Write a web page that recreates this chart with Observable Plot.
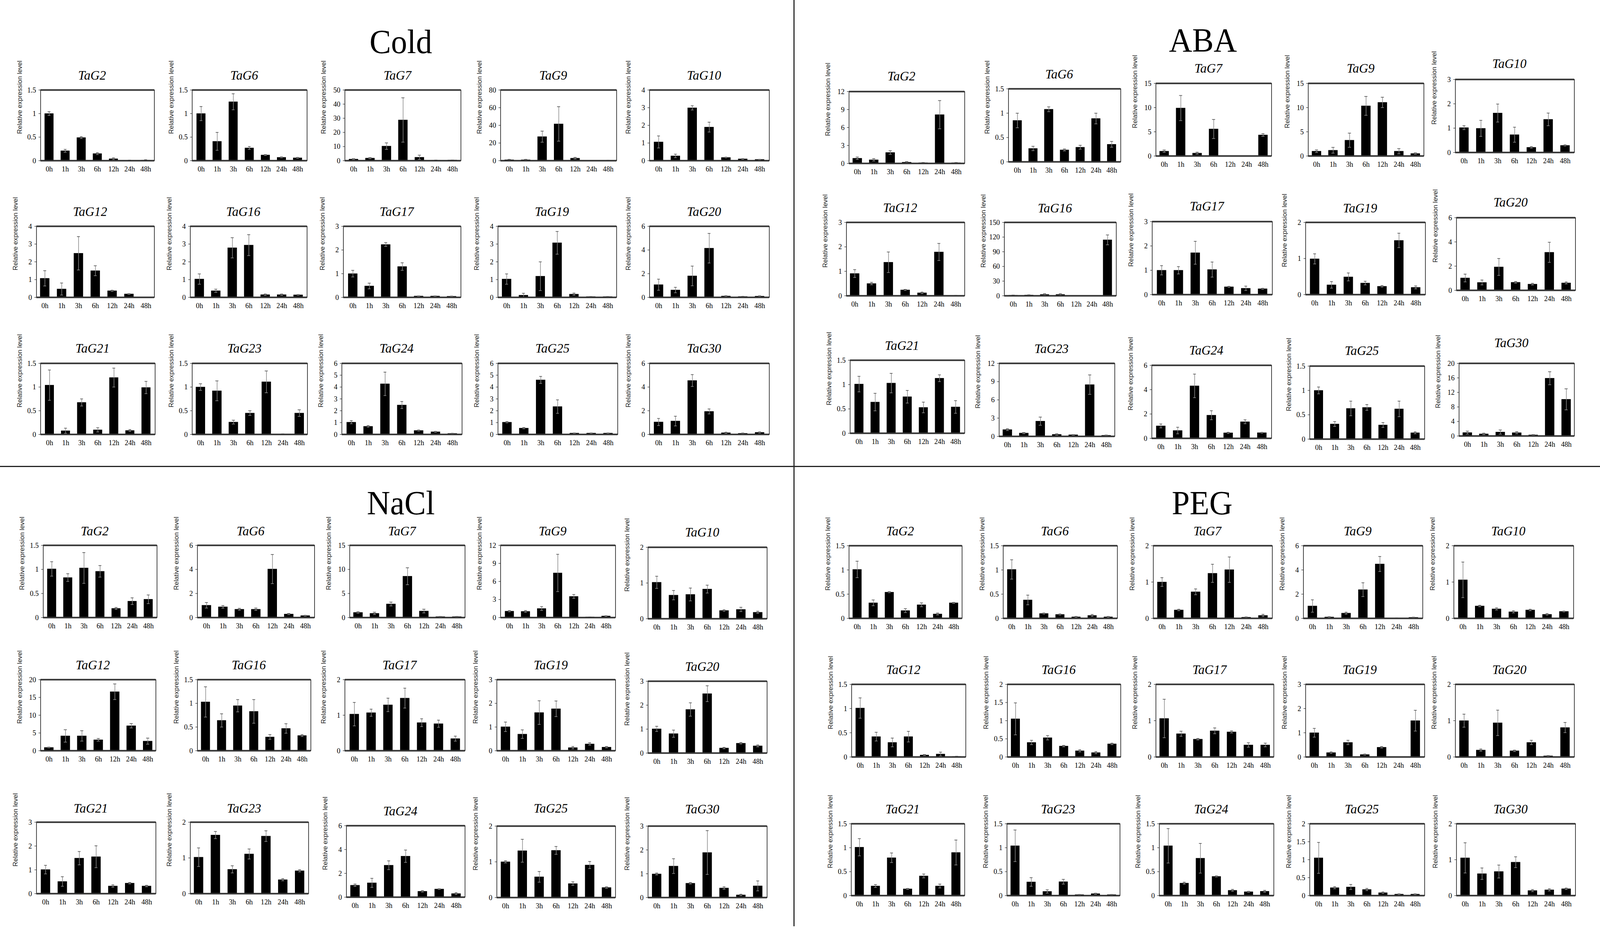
<!DOCTYPE html>
<html><head><meta charset="utf-8">
<script src="https://cdn.jsdelivr.net/npm/d3@7"></script>
<script src="https://cdn.jsdelivr.net/npm/@observablehq/plot@0.6"></script>
<style>
html,body{margin:0;padding:0;background:#fff;overflow:hidden;}
#root{position:absolute;left:0;top:0;width:4275px;height:2379px;overflow:hidden;background:#fff;transform-origin:0 0;}
.panel-title{position:absolute;font-family:"Liberation Serif",serif;font-size:86px;line-height:1;transform:translateX(-50%);white-space:nowrap;color:#000;}
.gene{position:absolute;font-family:"Liberation Serif",serif;font-style:italic;font-size:34px;line-height:1;transform:translate(-50%,-50%);white-space:nowrap;color:#000;}
.chart{position:absolute;}
.divider{position:absolute;background:#222;}
</style></head><body><div id="root"></div>
<script>
// ---------- DATA ----------
const times = ["0h","1h","3h","6h","12h","24h","48h"];
const genes = ["TaG2","TaG6","TaG7","TaG9","TaG10","TaG12","TaG16","TaG17","TaG19","TaG20","TaG21","TaG23","TaG24","TaG25","TaG30"];
const treatments = ["Cold","ABA","NaCl","PEG"];

const coldMean = [
 [1.0,0.21,0.49,0.15,0.04,0.005,0.01],
 [1.0,0.41,1.25,0.27,0.12,0.07,0.06],
 [1.1,1.8,10.3,28.8,2.4,0.3,0.4],
 [1.0,1.0,27.2,41.6,2.8,0.2,0.3],
 [1.06,0.27,2.99,1.9,0.18,0.1,0.07],
 [1.07,0.47,2.48,1.5,0.37,0.19,0.01],
 [1.03,0.37,2.79,2.94,0.15,0.15,0.14],
 [1.0,0.48,2.23,1.3,0.055,0.055,0.045],
 [1.03,0.12,1.19,3.07,0.18,0.04,0.04],
 [1.07,0.62,1.81,4.15,0.11,0.07,0.1],
 [1.04,0.077,0.675,0.096,1.2,0.083,0.99],
 [1.0,0.92,0.26,0.45,1.11,0.005,0.45],
 [1.03,0.68,4.27,2.48,0.33,0.22,0.08],
 [1.03,0.53,4.6,2.35,0.11,0.11,0.11],
 [1.05,1.13,4.55,1.94,0.14,0.09,0.17]
];
const coldErr = [
 [0.04,0.03,0.02,0.02,0.02,0.005,0.01],
 [0.15,0.19,0.17,0.03,0.01,0.01,0.01],
 [0.3,0.4,2.3,15.7,1.5,0.1,0.1],
 [0.5,0.5,6.3,19.5,0.9,0.1,0.1],
 [0.34,0.1,0.12,0.28,0.02,0.02,0.01],
 [0.43,0.34,0.94,0.28,0.03,0.02,0.005],
 [0.29,0.09,0.57,0.59,0.04,0.04,0.02],
 [0.14,0.12,0.08,0.16,0.01,0.01,0.01],
 [0.29,0.11,0.81,0.64,0.06,0.01,0.01],
 [0.47,0.23,0.83,1.25,0.03,0.02,0.03],
 [0.32,0.055,0.075,0.045,0.2,0.02,0.13],
 [0.07,0.21,0.04,0.05,0.23,0.005,0.07],
 [0.13,0.06,0.99,0.3,0.04,0.04,0.02],
 [0.05,0.05,0.3,0.57,0.02,0.02,0.02],
 [0.3,0.41,0.5,0.21,0.05,0.03,0.04]
];
const coldYMax  = [1.5,1.5,50,80,4, 4,4,3,4,6, 1.5,1.5,6,6,6];
const coldYStep = [0.5,0.5,10,20,1, 1,1,1,1,2, 0.5,0.5,1,1,2];

const abaMean = [
 [0.86,0.6,1.82,0.2,0.1,8.14,0.1],
 [0.85,0.275,1.08,0.245,0.3,0.89,0.36],
 [0.99,9.9,0.59,5.58,0.02,0.02,4.34],
 [0.99,1.18,3.26,10.35,11.07,0.99,0.51],
 [1.02,0.99,1.62,0.73,0.21,1.36,0.29],
 [0.91,0.5,1.37,0.24,0.12,1.79,0.01],
 [1.0,1.5,2.7,2.7,0.3,0.3,114.3],
 [1.0,1.0,1.72,1.03,0.32,0.26,0.24],
 [0.99,0.27,0.49,0.32,0.23,1.5,0.2],
 [1.02,0.65,1.93,0.66,0.51,3.14,0.61],
 [1.01,0.64,1.03,0.75,0.53,1.13,0.54],
 [1.11,0.54,2.5,0.32,0.26,8.5,0.17],
 [1.02,0.64,4.31,1.9,0.45,1.36,0.46],
 [1.0,0.31,0.63,0.65,0.29,0.62,0.13],
 [0.93,0.57,1.08,0.9,0.29,15.9,10.1]
];
const abaErr = [
 [0.2,0.2,0.3,0.1,0.05,2.36,0.05],
 [0.15,0.045,0.05,0.02,0.04,0.11,0.06],
 [0.24,2.6,0.2,1.97,0.01,0.01,0.27],
 [0.27,0.6,1.47,1.95,1.07,0.54,0.14],
 [0.08,0.33,0.37,0.31,0.03,0.26,0.02],
 [0.16,0.05,0.42,0.02,0.03,0.35,0.005],
 [0.5,0.5,1.5,1.5,0.1,0.1,10.1],
 [0.19,0.15,0.47,0.31,0.02,0.09,0.02],
 [0.14,0.09,0.11,0.05,0.02,0.2,0.04],
 [0.32,0.2,0.7,0.07,0.07,0.83,0.08],
 [0.16,0.18,0.2,0.13,0.11,0.07,0.13],
 [0.15,0.1,0.67,0.1,0.05,1.6,0.05],
 [0.16,0.27,0.97,0.37,0.05,0.16,0.03],
 [0.07,0.05,0.15,0.06,0.05,0.16,0.02],
 [0.4,0.2,0.57,0.3,0.1,1.8,2.9]
];
const abaYMax  = [12,1.5,15,15,3, 3,150,3,2,6, 1.5,12,6,1.5,20];
const abaYStep = [3,0.5,5,5,1, 1,30,1,1,2, 0.5,3,2,0.5,4];

const naclMean = [
 [1.01,0.83,1.03,0.96,0.19,0.34,0.38],
 [1.02,0.89,0.69,0.69,4.03,0.29,0.16],
 [1.06,0.87,2.82,8.58,1.35,0.19,0.19],
 [1.06,1.02,1.5,7.41,3.51,0.09,0.26],
 [1.02,0.66,0.68,0.83,0.23,0.26,0.18],
 [0.91,4.17,4.17,3.07,16.6,7.02,2.7],
 [1.03,0.64,0.95,0.83,0.29,0.47,0.32],
 [1.03,1.07,1.29,1.48,0.79,0.76,0.34],
 [1.01,0.7,1.61,1.77,0.13,0.285,0.15],
 [1.01,0.81,1.82,2.48,0.21,0.41,0.3],
 [1.01,0.51,1.49,1.55,0.32,0.44,0.32],
 [1.02,1.64,0.68,1.11,1.61,0.39,0.64],
 [1.0,1.2,2.68,3.44,0.49,0.68,0.3],
 [1.0,1.31,0.58,1.32,0.39,0.91,0.28],
 [0.99,1.32,0.6,1.89,0.4,0.11,0.49]
];
const naclErr = [
 [0.15,0.08,0.32,0.12,0.02,0.07,0.09],
 [0.23,0.11,0.08,0.1,1.21,0.05,0.03],
 [0.15,0.25,0.4,1.76,0.38,0.05,0.05],
 [0.1,0.15,0.32,3.1,0.32,0.02,0.05],
 [0.17,0.13,0.18,0.11,0.02,0.06,0.03],
 [0.1,1.75,1.46,0.37,2.2,0.62,0.85],
 [0.32,0.14,0.13,0.25,0.05,0.1,0.02],
 [0.33,0.1,0.19,0.28,0.11,0.1,0.07],
 [0.2,0.18,0.5,0.33,0.05,0.05,0.03],
 [0.11,0.15,0.28,0.33,0.03,0.03,0.04],
 [0.18,0.2,0.28,0.46,0.05,0.03,0.03],
 [0.26,0.1,0.1,0.14,0.15,0.03,0.03],
 [0.1,0.38,0.37,0.52,0.06,0.03,0.08],
 [0.03,0.32,0.15,0.11,0.05,0.1,0.02],
 [0.04,0.31,0.03,0.92,0.05,0.03,0.21]
];
const naclYMax  = [1.5,6,15,12,2, 20,1.5,2,3,3, 3,2,6,2,3];
const naclYStep = [0.5,2,5,3,1, 5,0.5,1,1,1, 1,1,2,1,1];

const pegMean = [
 [1.01,0.32,0.54,0.16,0.28,0.09,0.32],
 [1.01,0.38,0.1,0.08,0.03,0.06,0.03],
 [1.0,0.23,0.73,1.24,1.34,0.03,0.08],
 [1.02,0.11,0.43,2.37,4.49,0.02,0.08],
 [1.06,0.34,0.26,0.18,0.23,0.11,0.19],
 [1.01,0.42,0.3,0.42,0.04,0.06,0.01],
 [1.05,0.4,0.53,0.3,0.17,0.12,0.36],
 [1.06,0.64,0.49,0.72,0.69,0.33,0.33],
 [1.0,0.18,0.6,0.1,0.4,0.005,1.5],
 [1.0,0.19,0.94,0.17,0.4,0.03,0.81],
 [1.01,0.2,0.79,0.14,0.41,0.2,0.9],
 [1.04,0.285,0.087,0.29,0.02,0.04,0.02],
 [1.04,0.26,0.78,0.4,0.11,0.08,0.09],
 [1.05,0.22,0.24,0.17,0.08,0.04,0.04],
 [1.05,0.61,0.67,0.93,0.14,0.16,0.19]
];
const pegErr = [
 [0.17,0.06,0.01,0.04,0.04,0.02,0.01],
 [0.2,0.1,0.01,0.01,0.01,0.02,0.01],
 [0.12,0.02,0.08,0.25,0.35,0.01,0.03],
 [0.51,0.03,0.08,0.57,0.62,0.01,0.02],
 [0.49,0.02,0.03,0.03,0.02,0.02,0.01],
 [0.21,0.09,0.09,0.11,0.01,0.04,0.005],
 [0.44,0.06,0.06,0.02,0.03,0.03,0.02],
 [0.53,0.07,0.02,0.08,0.03,0.06,0.05],
 [0.18,0.03,0.09,0.02,0.03,0.005,0.43],
 [0.18,0.03,0.35,0.02,0.06,0.01,0.14],
 [0.18,0.03,0.1,0.01,0.04,0.04,0.26],
 [0.33,0.09,0.035,0.05,0.005,0.01,0.005],
 [0.36,0.02,0.31,0.01,0.02,0.01,0.02],
 [0.43,0.03,0.07,0.03,0.02,0.01,0.01],
 [0.42,0.16,0.18,0.15,0.03,0.03,0.02]
];
const pegYMax  = [1.5,1.5,2,6,2, 1.5,2,2,3,2, 1.5,1.5,1.5,2,2];
const pegYStep = [0.5,0.5,1,2,1, 0.5,0.5,1,1,1, 0.5,0.5,0.5,0.5,1];

const yLabel = "Relative expression level";

// ---------- LAYOUT (pixel boxes: left, top, right, bottom, titleY) ----------
const coldBoxes = [
 [108,230,412,411,193],[513,230,820,411,193],[921,230,1231,411,193],[1337,230,1647,411,193],[1735,230,2055,411,193],
 [97,579,412,761,542],[508,579,820,761,542],[917,579,1231,761,542],[1330,579,1647,761,542],[1735,579,2055,761,542],
 [108,930,414,1112,892],[513,930,821,1112,892],[913,930,1234,1112,892],[1330,930,1650,1112,892],[1735,930,2055,1112,892]
];
const abaBoxes = [
 [2268,234,2577,418,195],[2694,227,2994,414,190],[3088,213,3397,399,175],[3495,213,3804,399,175],[3888,203,4206,390,163],
 [2261,569,2577,757,532],[2683,569,2982,757,533],[3078,567,3399,754,528],[3488,569,3808,754,533],[3891,557,4209,743,518],
 [2271,922,2577,1109,885],[2669,930,2978,1117,893],[3077,935,3397,1122,897],[3499,937,3806,1124,898],[3898,930,4206,1116,878]
];
const naclBoxes = [
 [115,1396,419,1581,1360],[527,1396,840,1581,1360],[934,1396,1242,1581,1360],[1337,1396,1644,1581,1360],[1731,1401,2049,1584,1363],
 [108,1740,416,1922,1703],[527,1740,830,1922,1703],[921,1740,1242,1922,1703],[1327,1740,1644,1922,1703],[1731,1744,2049,1928,1707],
 [97,2105,416,2288,2070],[508,2105,824,2288,2070],[925,2114,1242,2297,2077],[1327,2115,1644,2298,2070],[1731,2115,2049,2298,2072]
];
const pegBoxes = [
 [2268,1397,2570,1583,1360],[2680,1397,2985,1583,1360],[3081,1397,3399,1583,1360],[3482,1397,3801,1583,1360],[3884,1397,4204,1583,1360],
 [2275,1752,2580,1938,1715],[2691,1752,2994,1938,1715],[3088,1752,3403,1938,1715],[3488,1752,3806,1938,1715],[3888,1752,4206,1938,1715],
 [2274,2109,2577,2293,2072],[2690,2109,2992,2293,2072],[3097,2109,3403,2293,2072],[3499,2109,3806,2293,2072],[3891,2109,4209,2293,2072]
];
const panelTitlePos = [[1071,64],[3214,60],[1071,1245],[3212,1245]];

// ---------- DRAW ----------
const root = document.getElementById("root");
const PAGE_W = 4275, PAGE_H = 2379;

function fitPage() {
  const vw = document.documentElement.clientWidth || window.innerWidth || PAGE_W;
  const vh = document.documentElement.clientHeight || window.innerHeight || PAGE_H;
  const sx = Math.min(1, vw / PAGE_W), sy = Math.min(1, vh / PAGE_H);
  root.style.transform = (sx < 1 || sy < 1) ? `scale(${sx}, ${sy})` : "none";
}

function addDiv(cls, text, css) {
  const d = document.createElement("div");
  d.className = cls;
  if (text != null) d.textContent = text;
  Object.assign(d.style, css);
  root.appendChild(d);
  return d;
}

function drawChart(gene, means, errs, ymax, ystep, box) {
  const [L, T, R, B, TY] = box;
  const mL = 80, mR = 8, mT = 8, mB = 50;
  const w = R - L, h = B - T;
  const rows = times.map((t, i) => ({t, v: means[i], e: errs[i]}));
  const n = Math.round(ymax / ystep);
  const ticks = d3.range(0, n + 1).map(i => +(i * ystep).toFixed(4));
  const step = w / times.length, bw = step * 0.56, ins = Math.max(0, (bw - 8) / 2);
  const svg = Plot.plot({
    width: w + mL + mR, height: h + mT + mB,
    marginLeft: mL, marginRight: mR, marginTop: mT, marginBottom: mB,
    style: {background: "transparent", fontFamily: "Liberation Serif", fontSize: "19px", color: "black", overflow: "visible"},
    x: {domain: times, paddingInner: 0.44, paddingOuter: 0.22, label: null},
    y: {domain: [0, ymax], label: null},
    marks: [
      Plot.barY(rows, {x: "t", y: "v", fill: "black"}),
      Plot.ruleX(rows, {x: "t", y1: d => Math.max(0, d.v - d.e), y2: d => d.v + d.e, stroke: "#8a8a8a", strokeWidth: 1.6}),
      Plot.tickY(rows, {x: "t", y: d => d.v + d.e, stroke: "#555", strokeWidth: 1.6, insetLeft: ins, insetRight: ins}),
      Plot.tickY(rows, {x: "t", y: d => Math.max(0, d.v - d.e), stroke: "#999", strokeWidth: 1.4, insetLeft: ins, insetRight: ins}),
      Plot.frame({stroke: "black", strokeWidth: 1.5}),
      Plot.ruleY([ymax], {stroke: "#333", strokeWidth: 4}),
      Plot.ruleY([0], {stroke: "#333", strokeWidth: 4}),
      Plot.axisY({ticks, tickSize: 5, tickPadding: 7, tickFormat: d => String(d), fontSize: 19, fontFamily: "Liberation Serif", label: null}),
      Plot.axisX({tickSize: 0, tickPadding: 14, fontSize: 19, fontFamily: "Liberation Serif", label: null}),
      Plot.text([yLabel], {text: d => d, frameAnchor: "left", rotate: -90, dx: -56, dy: 22, fontFamily: "Liberation Sans", fontSize: 17, fill: "#222"})
    ]
  });
  const wrap = document.createElement("div");
  wrap.className = "chart";
  wrap.style.left = (L - mL) + "px";
  wrap.style.top = (T - mT) + "px";
  wrap.appendChild(svg);
  root.appendChild(wrap);
  addDiv("gene", gene, {left: ((L + R) / 2 - 14) + "px", top: TY + "px"});
}

const panels = [
  [coldMean, coldErr, coldYMax, coldYStep, coldBoxes],
  [abaMean, abaErr, abaYMax, abaYStep, abaBoxes],
  [naclMean, naclErr, naclYMax, naclYStep, naclBoxes],
  [pegMean, pegErr, pegYMax, pegYStep, pegBoxes]
];

panels.forEach(([M, E, YM, YS, BX], p) => {
  addDiv("panel-title", treatments[p], {left: panelTitlePos[p][0] + "px", top: panelTitlePos[p][1] + "px"});
  genes.forEach((g, i) => drawChart(g, M[i], E[i], YM[i], YS[i], BX[i]));
});

// dividers
addDiv("divider", null, {left: "2120px", top: "0px", width: "3px", height: "2372px"});
addDiv("divider", null, {left: "0px", top: "1193px", width: "4275px", height: "3px"});

fitPage();
window.addEventListener("resize", fitPage);
</script></body></html>
